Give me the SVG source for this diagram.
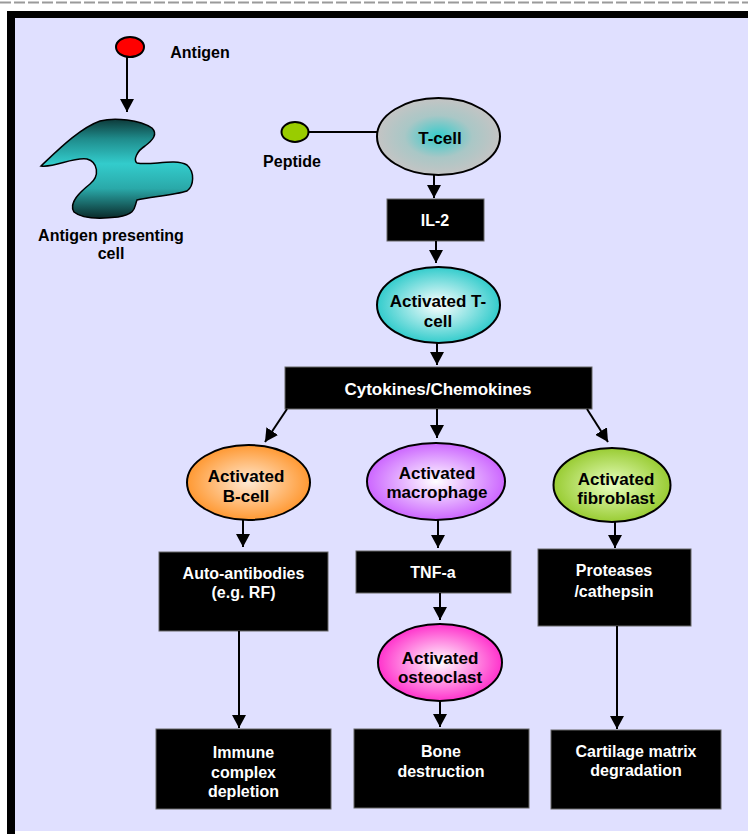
<svg xmlns="http://www.w3.org/2000/svg" width="748" height="834" viewBox="0 0 748 834">
<style>
text{font-family:"Liberation Sans",Arial,sans-serif;font-weight:bold;font-size:16px;text-anchor:middle}
.w{fill:#fff}
.k{fill:#000}
.e{font-size:17px}
.box{fill:#000;stroke:#666;stroke-width:1}
.ell{stroke:#000;stroke-width:2}
.con line{stroke:#000;stroke-width:2}
</style>
<defs>
<marker id="ah" markerUnits="userSpaceOnUse" markerWidth="14" markerHeight="14" refX="13" refY="7" orient="auto" viewBox="0 0 14 14">
<path d="M0,0 L13,7 L0,14 z" fill="#000"/>
</marker>
<linearGradient id="gApc" x1="0" y1="0" x2="0" y2="1">
<stop offset="0" stop-color="#0d3a3a"/>
<stop offset="0.2" stop-color="#1f8c8c"/>
<stop offset="0.45" stop-color="#33cccc"/>
<stop offset="0.7" stop-color="#2aa9a9"/>
<stop offset="1" stop-color="#0a2a2a"/>
</linearGradient>
<radialGradient id="gT"><stop offset="0" stop-color="#33cccc"/><stop offset="0.55" stop-color="#a9c7c6"/><stop offset="1" stop-color="#c4c4c4"/></radialGradient>
<radialGradient id="gAT"><stop offset="0" stop-color="#ffffff"/><stop offset="1" stop-color="#33cccc"/></radialGradient>
<radialGradient id="gB"><stop offset="0" stop-color="#ffe9d2"/><stop offset="1" stop-color="#ff9933"/></radialGradient>
<radialGradient id="gM"><stop offset="0" stop-color="#ffffff"/><stop offset="1" stop-color="#cc66ff"/></radialGradient>
<radialGradient id="gF"><stop offset="0" stop-color="#e8ffc0"/><stop offset="1" stop-color="#99cc33"/></radialGradient>
<radialGradient id="gO"><stop offset="0" stop-color="#ffffff"/><stop offset="1" stop-color="#ff33cc"/></radialGradient>
</defs>

<line x1="0" y1="2.5" x2="748" y2="2.5" stroke="#9a9a9a" stroke-width="2" stroke-dasharray="11 3"/>
<rect x="7" y="11" width="741" height="823" fill="#000"/>
<rect x="15" y="18" width="733" height="813" fill="#e0e0ff"/>
<rect x="15" y="831" width="733" height="3" fill="#fff"/>

<g id="antigen">
<ellipse cx="130" cy="47" rx="14" ry="10" fill="#ff0000" class="ell" stroke-width="1.5"/>
<text x="200" y="58" class="k" font-size="16.5">Antigen</text>
</g>

<g id="apc">
<path d="M41,166 C58,150 80,128 100,121 C115,117 140,120 152,128 C158,134 153,140 145,146 C137,151 133,160 137,163 C150,166 175,158 187,165 C195,172 194,186 187,191 C175,195 150,197 137,200 C134,207 137,214 118,217 C100,219 82,219 74,212 C68,203 80,192 90,184 C100,176 98,162 87,159 C72,157 55,168 41,166 Z" fill="url(#gApc)" stroke="#000" stroke-width="1.5"/>
<text x="111" y="241" class="k" font-size="15">Antigen presenting</text>
<text x="111" y="259" class="k" font-size="15">cell</text>
</g>

<g id="peptide">
<ellipse cx="295" cy="132" rx="13.5" ry="10" fill="#99cc00" class="ell" stroke-width="1.5"/>
<text x="292" y="167" class="k" font-size="15">Peptide</text>
</g>

<g id="tcell">
<ellipse cx="438.5" cy="136.5" rx="61.5" ry="38.5" fill="url(#gT)" class="ell"/>
<text x="440" y="144" class="k e">T-cell</text>
</g>

<g id="il2">
<rect x="387" y="199" width="97" height="42" class="box"/>
<text x="435" y="226" class="w">IL-2</text>
</g>

<g id="activated-tcell">
<ellipse cx="438.5" cy="305" rx="61.5" ry="38" fill="url(#gAT)" class="ell"/>
<text x="438" y="307" class="k e">Activated T-</text>
<text x="438" y="327" class="k e">cell</text>
</g>

<g id="cytokines">
<rect x="285" y="367" width="307" height="42" class="box"/>
<text x="438" y="395" class="w e">Cytokines/Chemokines</text>
</g>

<g id="bcell">
<ellipse cx="248.5" cy="482.5" rx="61.5" ry="37.5" fill="url(#gB)" class="ell"/>
<text x="246" y="482" class="k e">Activated</text>
<text x="246" y="502" class="k e">B-cell</text>
</g>

<g id="macrophage">
<ellipse cx="436" cy="481.5" rx="69" ry="38.5" fill="url(#gM)" class="ell"/>
<text x="437" y="479" class="k e">Activated</text>
<text x="437" y="498" class="k e">macrophage</text>
</g>

<g id="fibroblast">
<ellipse cx="612" cy="485" rx="58.5" ry="37" fill="url(#gF)" class="ell"/>
<text x="616" y="485" class="k e">Activated</text>
<text x="616" y="504" class="k e">fibroblast</text>
</g>

<g id="autoantibodies">
<rect x="159" y="552" width="169" height="79" class="box"/>
<text x="243.5" y="579" class="w">Auto-antibodies</text>
<text x="243.5" y="598" class="w">(e.g. RF)</text>
</g>

<g id="tnfa">
<rect x="356" y="551" width="155" height="42" class="box"/>
<text x="433" y="578" class="w">TNF-a</text>
</g>

<g id="proteases">
<rect x="538" y="549" width="153" height="77" class="box"/>
<text x="614" y="576" class="w">Proteases</text>
<text x="614" y="597" class="w">/cathepsin</text>
</g>

<g id="osteoclast">
<ellipse cx="440" cy="662.5" rx="62" ry="38.5" fill="url(#gO)" class="ell"/>
<text x="440" y="664" class="k e">Activated</text>
<text x="440" y="683" class="k e">osteoclast</text>
</g>

<g id="immune">
<rect x="156" y="729" width="175" height="80" class="box"/>
<text x="243.5" y="758" class="w">Immune</text>
<text x="243.5" y="778" class="w">complex</text>
<text x="243.5" y="797" class="w">depletion</text>
</g>

<g id="bone">
<rect x="354" y="729" width="175" height="79" class="box"/>
<text x="441" y="757" class="w">Bone</text>
<text x="441" y="777" class="w">destruction</text>
</g>

<g id="cartilage">
<rect x="551" y="730" width="170" height="79" class="box"/>
<text x="636" y="757" class="w">Cartilage matrix</text>
<text x="636" y="776" class="w">degradation</text>
</g>

<g id="connectors" class="con">
<line x1="127" y1="57" x2="127" y2="112" marker-end="url(#ah)"/>
<line x1="308.5" y1="132" x2="377" y2="132"/>
<line x1="434" y1="175" x2="434" y2="198" marker-end="url(#ah)"/>
<line x1="436" y1="241" x2="436" y2="263" marker-end="url(#ah)"/>
<line x1="437" y1="343" x2="437" y2="365" marker-end="url(#ah)"/>
<line x1="287" y1="409" x2="265" y2="442" marker-end="url(#ah)"/>
<line x1="437" y1="409" x2="437" y2="438" marker-end="url(#ah)"/>
<line x1="587" y1="409" x2="608" y2="442" marker-end="url(#ah)"/>
<line x1="243" y1="520" x2="243" y2="547" marker-end="url(#ah)"/>
<line x1="438" y1="520" x2="438" y2="548" marker-end="url(#ah)"/>
<line x1="615" y1="522" x2="615" y2="548" marker-end="url(#ah)"/>
<line x1="239" y1="631" x2="239" y2="728" marker-end="url(#ah)"/>
<line x1="440" y1="593" x2="440" y2="620" marker-end="url(#ah)"/>
<line x1="440" y1="701" x2="440" y2="727" marker-end="url(#ah)"/>
<line x1="617" y1="626" x2="617" y2="729" marker-end="url(#ah)"/>
</g>
</svg>
